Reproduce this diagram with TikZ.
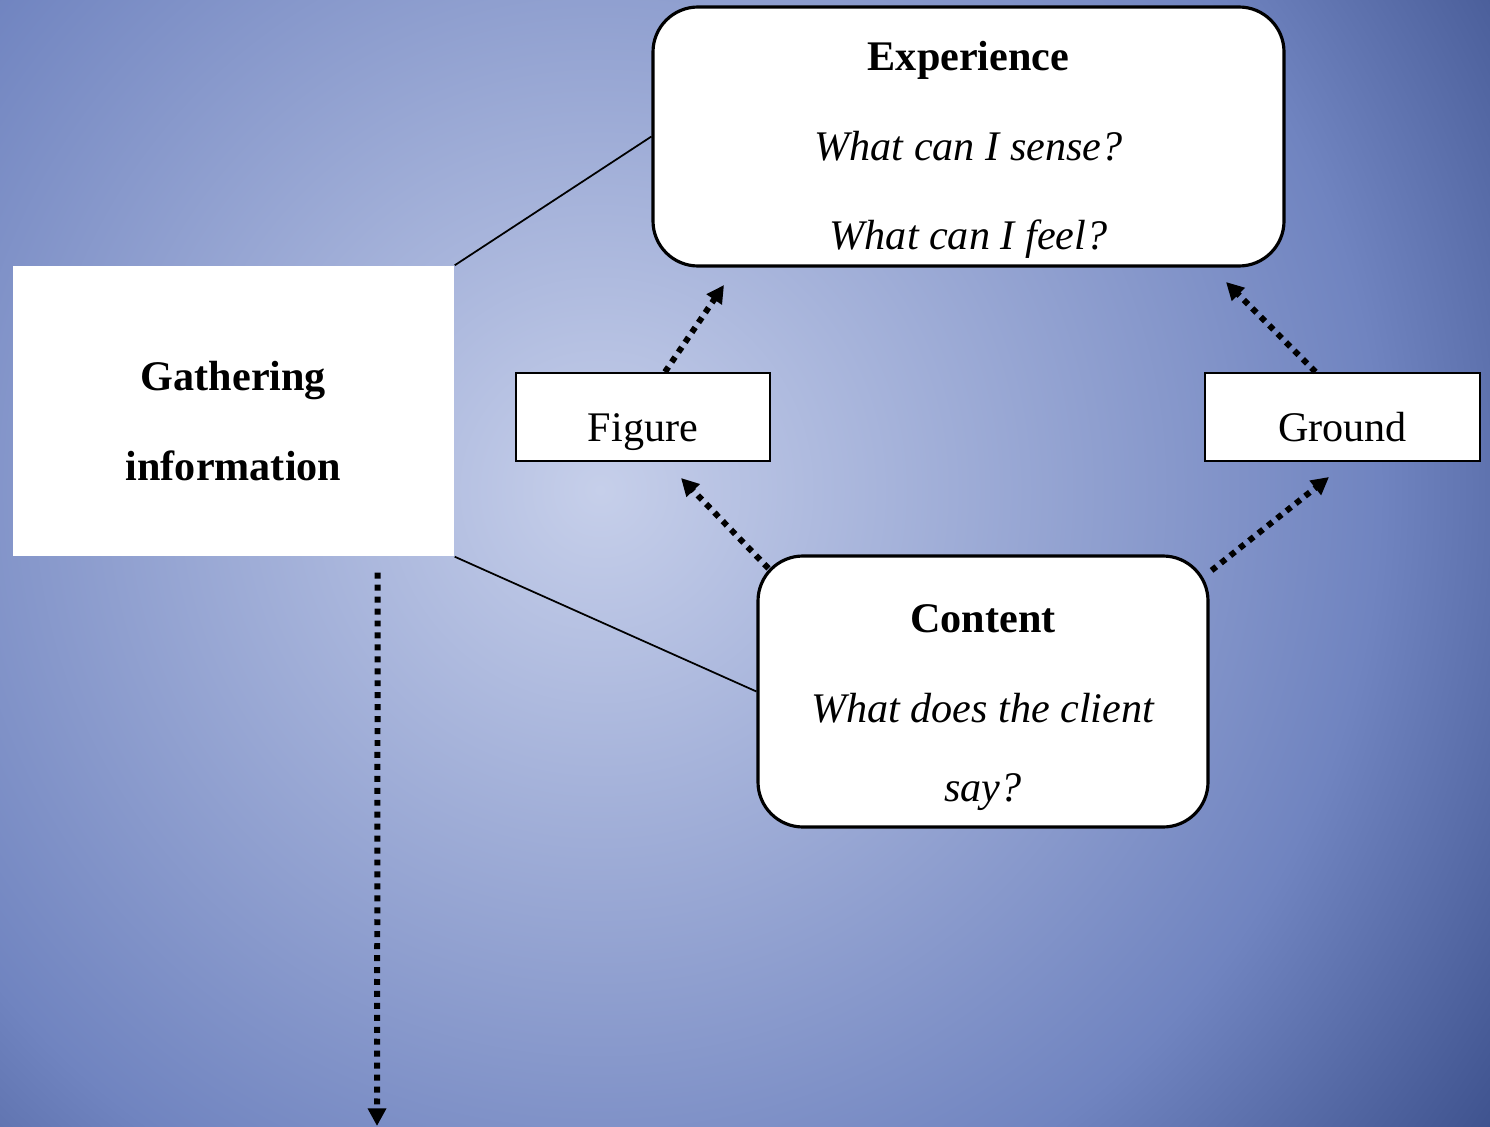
\documentclass[tikz,border=0pt]{standalone}
\usepackage{fontspec}
\setmainfont{Liberation Serif}
\usepackage{tikz}
\usetikzlibrary{arrows.meta, positioning, calc}
\definecolor{bginner}{RGB}{198,207,234}
\definecolor{bgmid}{RGB}{112,132,192}
\definecolor{bgouter}{RGB}{62,82,142}
\pgfdeclareradialshading{bgshade}{\pgfpoint{0bp}{0bp}}{color(0bp)=(bginner); color(17.7bp)=(bgmid); color(25bp)=(bgouter); color(50bp)=(bgouter)}

\begin{document}
\begin{tikzpicture}[
    roundbox/.style={rectangle, rounded corners=0.45cm, draw=black, line width=0.9pt, fill=white, inner sep=0pt, align=center, font=\fontsize{12}{25.5}\selectfont},
    gatherbox/.style={rectangle, fill=white, inner sep=0pt, align=center, font=\fontsize{12}{25.5}\selectfont\bfseries},
    plainbox/.style={rectangle, draw=black, line width=0.6pt, fill=white, inner sep=0pt, text height=14pt, text depth=0pt, font=\fontsize{12}{14}\selectfont},
    dotarrow/.style={-{Triangle[length=5pt,width=5pt]}, line width=1.7pt, dash pattern=on 1.7pt off 1.7pt},
    link/.style={line width=0.5pt}
]
% Background
\begin{scope}
\clip (0,0) rectangle (14.9,-11.26);
\shade[shading=bgshade] (6,-4.9) circle (11);
\end{scope}
\useasboundingbox (0,0) rectangle (14.9,-11.26);

% Boxes
\node[gatherbox, minimum width=4.41cm, minimum height=2.9cm] (gather) at (2.335,-4.11) {\rule{0pt}{14pt}Gathering\\information};
\node[roundbox, minimum width=6.31cm, minimum height=2.59cm] (exp) at (9.685,-1.365) {\rule{0pt}{16pt}\textbf{Experience}\\\textit{What can I sense?}\\\textit{What can I feel?}};
\node[plainbox, minimum width=2.54cm, minimum height=0.88cm] (fig) at (6.43,-4.17) {Figure};
\node[plainbox, minimum width=2.75cm, minimum height=0.88cm] (ground) at (13.425,-4.17) {Ground};
\node[roundbox, minimum width=4.5cm, minimum height=2.71cm] (content) at (9.83,-6.915) {\rule{0pt}{17pt}\textbf{Content}\\\textit{What does the client}\\[-3pt]\textit{say?}};

% Lines to the gathering box
\draw[link] (gather.north east) -- (exp.west);
\draw[link] (gather.south east) -- (content.west);

% Arrow ends
\coordinate (figtip) at (7.24,-2.85);
\coordinate (groundtip) at (12.26,-2.82);
\coordinate (figlow) at (6.81,-4.78);
\coordinate (groundlow) at (13.29,-4.77);
\coordinate (gatherend) at (3.77,-11.26);

% Arrows
\draw[dotarrow] ([xshift=0.22cm]fig.north) -- (figtip);
\draw[dotarrow] ([xshift=-0.27cm]ground.north) -- (groundtip);
\draw[dotarrow] ([shift={(0.12,-0.14)}]content.north west) -- (figlow);
\draw[dotarrow] ([shift={(0.02,-0.16)}]content.north east) -- (groundlow);
\draw[dotarrow] ([xshift=-0.77cm, yshift=-0.16cm]gather.south east) -- (gatherend);
\end{tikzpicture}
\end{document}
